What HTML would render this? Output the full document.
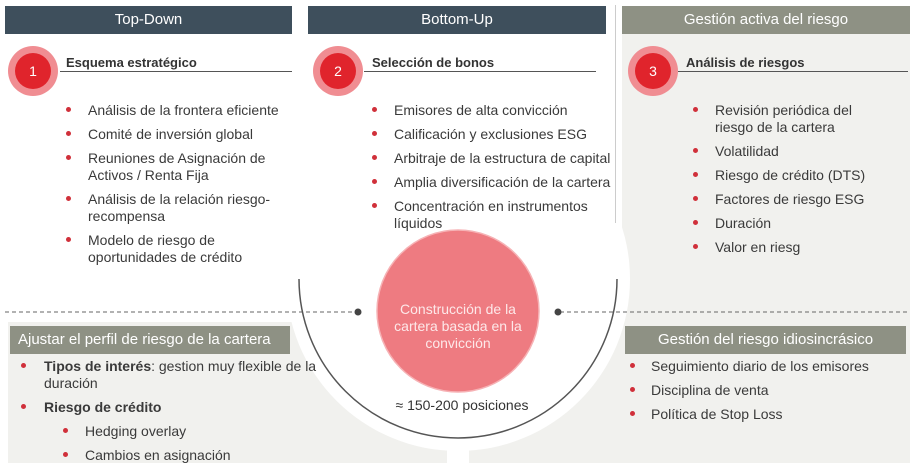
<!DOCTYPE html>
<html><head><meta charset="utf-8"><style>
body{margin:0;width:918px;height:472px;position:relative;overflow:hidden;background:#fff;font-family:"Liberation Sans",Arial,sans-serif;color:#3a3a3a}
.a{position:absolute}
.hd{position:absolute;height:28px;line-height:28px;color:#fff;text-align:center;font-size:15px}
.t{position:absolute;font-size:14px;line-height:17px;white-space:nowrap}
.b{position:absolute;width:5px;height:5px;border-radius:50%;background:#d0303a}
.h{position:absolute;font-size:13px;font-weight:bold;color:#333}
.ul{position:absolute;height:1px;background:#555}
</style></head><body>
<div class="a" style="left:622px;top:6px;width:288px;height:457px;background:#f1f1ee"></div>
<div class="a" style="left:8px;top:322px;width:902px;height:141px;background:#f1f1ee"></div>
<div class="a" style="left:286px;top:107px;width:344px;height:344px;border-radius:50%;background:#fff"></div>
<div class="a" style="left:447px;top:430px;width:22px;height:42px;background:#fff"></div>
<div class="a" style="left:615px;top:5px;width:1px;height:218px;background:#ccc"></div>

<div class="hd" style="left:5px;top:6px;width:287px;background:#3e4f5c">Top-Down</div>
<div class="hd" style="left:308px;top:6px;width:298px;background:#3e4f5c">Bottom-Up</div>
<div class="hd" style="left:622px;top:6px;width:288px;background:#8e9184">Gestión activa del riesgo</div>

<svg class="a" style="left:0;top:0" width="918" height="472">
<line x1="5" y1="312" x2="356" y2="312" stroke="#666" stroke-dasharray="4,3"/>
<line x1="560" y1="312" x2="910" y2="312" stroke="#666" stroke-dasharray="4,3"/>
<circle cx="358" cy="312" r="3.5" fill="#444"/><circle cx="558" cy="312" r="3.5" fill="#444"/>
<path d="M299 279 A159 159 0 0 0 617 279" fill="none" stroke="#555" stroke-width="1.5"/>
<circle cx="458" cy="311" r="81" fill="#ee7b81" stroke="#f6b2b5" stroke-width="1.5"/>
<g font-family="Liberation Sans,Arial,sans-serif">
<circle cx="33" cy="71" r="25" fill="#f08d92"/><circle cx="33" cy="71" r="18" fill="#e0242c"/>
<text x="33" y="76" fill="#fff" font-size="14" text-anchor="middle">1</text>
<circle cx="338" cy="71" r="25" fill="#f08d92"/><circle cx="338" cy="71" r="18" fill="#e0242c"/>
<text x="338" y="76" fill="#fff" font-size="14" text-anchor="middle">2</text>
<circle cx="653" cy="71" r="25" fill="#f08d92"/><circle cx="653" cy="71" r="18" fill="#e0242c"/>
<text x="653" y="76" fill="#fff" font-size="14" text-anchor="middle">3</text>
<text x="458" y="314" fill="#fde8e9" font-size="14" text-anchor="middle">Construcción de la</text>
<text x="458" y="331" fill="#fde8e9" font-size="14" text-anchor="middle">cartera basada en la</text>
<text x="458" y="348" fill="#fde8e9" font-size="14" text-anchor="middle">convicción</text>
<text x="462" y="410" fill="#333" font-size="14" text-anchor="middle">≈ 150-200 posiciones</text>
</g></svg>

<div class="h" style="left:66px;top:55px">Esquema estratégico</div><div class="ul" style="left:60px;top:71px;width:232px"></div>
<div class="h" style="left:372px;top:55px">Selección de bonos</div><div class="ul" style="left:364px;top:71px;width:232px"></div>
<div class="h" style="left:686px;top:55px">Análisis de riesgos</div><div class="ul" style="left:678px;top:71px;width:230px"></div>

<div class="b" style="left:66px;top:107px"></div><div class="t" style="left:88px;top:102px">Análisis de la frontera eficiente</div>
<div class="b" style="left:66px;top:131px"></div><div class="t" style="left:88px;top:126px">Comité de inversión global</div>
<div class="b" style="left:66px;top:155px"></div><div class="t" style="left:88px;top:150px">Reuniones de Asignación de<br>Activos / Renta Fija</div>
<div class="b" style="left:66px;top:196px"></div><div class="t" style="left:88px;top:191px">Análisis de la relación riesgo-<br>recompensa</div>
<div class="b" style="left:66px;top:237px"></div><div class="t" style="left:88px;top:232px">Modelo de riesgo de<br>oportunidades de crédito</div>

<div class="b" style="left:372px;top:107px"></div><div class="t" style="left:394px;top:102px">Emisores de alta convicción</div>
<div class="b" style="left:372px;top:131px"></div><div class="t" style="left:394px;top:126px">Calificación y exclusiones ESG</div>
<div class="b" style="left:372px;top:155px"></div><div class="t" style="left:394px;top:150px">Arbitraje de la estructura de capital</div>
<div class="b" style="left:372px;top:179px"></div><div class="t" style="left:394px;top:174px">Amplia diversificación de la cartera</div>
<div class="b" style="left:372px;top:203px"></div><div class="t" style="left:394px;top:198px">Concentración en instrumentos<br>líquidos</div>

<div class="b" style="left:693px;top:107px"></div><div class="t" style="left:715px;top:102px">Revisión periódica del<br>riesgo de la cartera</div>
<div class="b" style="left:693px;top:148px"></div><div class="t" style="left:715px;top:143px">Volatilidad</div>
<div class="b" style="left:693px;top:172px"></div><div class="t" style="left:715px;top:167px">Riesgo de crédito (DTS)</div>
<div class="b" style="left:693px;top:196px"></div><div class="t" style="left:715px;top:191px">Factores de riesgo ESG</div>
<div class="b" style="left:693px;top:220px"></div><div class="t" style="left:715px;top:215px">Duración</div>
<div class="b" style="left:693px;top:244px"></div><div class="t" style="left:715px;top:239px">Valor en riesg</div>

<div class="hd" style="left:10px;top:326px;width:280px;background:#8e9184;text-align:left;padding-left:8px;box-sizing:border-box">Ajustar el perfil de riesgo de la cartera</div>
<div class="b" style="left:21px;top:363px"></div><div class="t" style="left:44px;top:358px"><b>Tipos de interés</b>: gestion muy flexible de la<br>duración</div>
<div class="b" style="left:21px;top:404px"></div><div class="t" style="left:44px;top:399px;font-weight:bold">Riesgo de crédito</div>
<div class="b" style="left:63px;top:428px"></div><div class="t" style="left:85px;top:423px">Hedging overlay</div>
<div class="b" style="left:63px;top:452px"></div><div class="t" style="left:85px;top:447px">Cambios en asignación</div>

<div class="hd" style="left:625px;top:326px;width:281px;background:#8e9184">Gestión del riesgo idiosincrásico</div>
<div class="b" style="left:630px;top:363px"></div><div class="t" style="left:651px;top:358px">Seguimiento diario de los emisores</div>
<div class="b" style="left:630px;top:387px"></div><div class="t" style="left:651px;top:382px">Disciplina de venta</div>
<div class="b" style="left:630px;top:411px"></div><div class="t" style="left:651px;top:406px">Política de Stop Loss</div>
</body></html>
